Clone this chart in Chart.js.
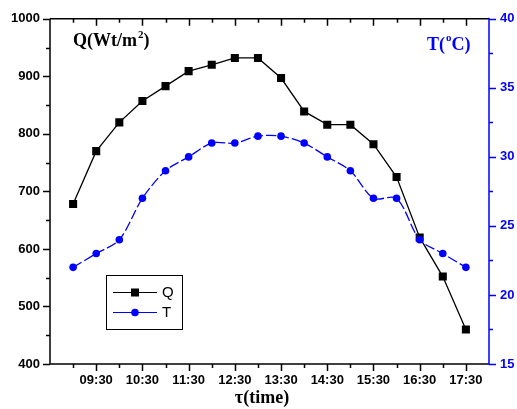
<!DOCTYPE html>
<html>
<head>
<meta charset="utf-8">
<script src="https://cdn.jsdelivr.net/npm/chart.js@4.4.1/dist/chart.umd.min.js"></script>
<style>
  body { margin: 0; background: #fff; }
  canvas { display: block; }
</style>
</head>
<body>
<canvas id="chart" width="517" height="409"></canvas>
<script>
// measurement times, every half hour
const times = ["09:00", "09:30", "10:00", "10:30", "11:00", "11:30", "12:00", "12:30", "13:00",
               "13:30", "14:00", "14:30", "15:00", "15:30", "16:00", "16:30", "17:00", "17:30"];
// solar flux Q (Wt/m2)
const qValues = [678, 770, 820, 857, 883, 909, 920, 932, 932, 897, 839, 816, 816, 782, 725, 620, 552, 460];
// temperature T (C)
const tValues = [22, 23, 24, 27, 29, 30, 31, 31, 31.5, 31.5, 31, 30, 29, 27, 27, 24, 23, 22];
// axis ticks
const timeTicks = ["09:30", "10:30", "11:30", "12:30", "13:30", "14:30", "15:30", "16:30", "17:30"];
const qTicks = [400, 500, 600, 700, 800, 900, 1000];
const tTicks = [15, 20, 25, 30, 35, 40];

const BLUE = "#0000ff";

function toHours(s) {
    const [h, m] = s.split(":").map(Number);
    return h + m / 60;
}

const sans = "'Liberation Sans', Arial, sans-serif";
const serif = "'Liberation Serif', 'Times New Roman', serif";

// axis frame, major/minor ticks, titles and legend
const framePlugin = {
    id: "frame",
    afterDraw(chart) {
        const { ctx, chartArea: a, scales } = chart;
        const x = scales.x, y = scales.y, y2 = scales.y2;
        ctx.save();
        ctx.lineWidth = 1.5;
        ctx.lineCap = "butt";

        // black frame: left, bottom, top
        ctx.strokeStyle = "#000";
        ctx.beginPath();
        ctx.moveTo(a.left, a.top); ctx.lineTo(a.left, a.bottom);
        ctx.moveTo(a.left, a.bottom); ctx.lineTo(a.right, a.bottom);
        ctx.moveTo(a.left, a.top); ctx.lineTo(a.right, a.top);
        ctx.stroke();

        // x ticks every half hour, major at :30
        const xStep = 0.5;
        ctx.beginPath();
        for (let v = x.min + xStep; v < x.max - 1e-6; v += xStep) {
            const px = Math.round(x.getPixelForValue(v)) + 0.5;
            const major = timeTicks.some(t => Math.abs(toHours(t) - v) < 1e-6);
            const len = major ? 7 : 4;
            ctx.moveTo(px, a.bottom); ctx.lineTo(px, a.bottom + len);
            ctx.moveTo(px, a.top); ctx.lineTo(px, a.top + len);
        }
        ctx.stroke();

        // left ticks
        const qStep = (qTicks[1] - qTicks[0]) / 2;
        ctx.beginPath();
        for (let v = y.min; v <= y.max + 1e-6; v += qStep) {
            const py = Math.round(y.getPixelForValue(v)) + 0.5;
            const len = qTicks.includes(v) ? 7 : 4;
            ctx.moveTo(a.left - len, py); ctx.lineTo(a.left, py);
        }
        ctx.stroke();

        // right axis in blue
        ctx.strokeStyle = BLUE;
        ctx.beginPath();
        ctx.moveTo(a.right, a.top - 1); ctx.lineTo(a.right, a.bottom + 1);
        const tStep = (tTicks[1] - tTicks[0]) / 2;
        for (let v = y2.min; v <= y2.max + 1e-6; v += tStep) {
            const py = Math.round(y2.getPixelForValue(v)) + 0.5;
            const len = tTicks.includes(v) ? 7 : 4;
            ctx.moveTo(a.right, py); ctx.lineTo(a.right + len, py);
        }
        ctx.stroke();

        // titles
        ctx.textBaseline = "alphabetic";
        ctx.textAlign = "left";
        ctx.fillStyle = "#000";
        let cx = 73;
        ctx.font = "bold 18px " + serif;
        ctx.fillText("Q(Wt/m", cx, 46);
        cx += ctx.measureText("Q(Wt/m").width;
        ctx.font = "bold 11px " + serif;
        ctx.fillText("2", cx + 1, 38);
        cx += ctx.measureText("2").width + 1;
        ctx.font = "bold 18px " + serif;
        ctx.fillText(")", cx, 46);

        ctx.fillStyle = BLUE;
        cx = 427;
        ctx.fillText("T(", cx, 50);
        cx += ctx.measureText("T(").width;
        ctx.font = "bold 11px " + serif;
        ctx.fillText("o", cx + 1, 41);
        cx += ctx.measureText("o").width + 1;
        ctx.font = "bold 18px " + serif;
        ctx.fillText("C)", cx, 50);

        ctx.fillStyle = "#000";
        ctx.textAlign = "center";
        ctx.fillText("\u03c4(time)", 262, 403);

        // legend
        ctx.lineWidth = 1;
        ctx.strokeStyle = "#000";
        ctx.strokeRect(106.5, 275.5, 76, 54);
        ctx.beginPath();
        ctx.moveTo(113, 292.5); ctx.lineTo(157, 292.5);
        ctx.stroke();
        ctx.fillRect(131, 288.5, 8, 8);
        ctx.strokeStyle = BLUE;
        ctx.fillStyle = BLUE;
        ctx.beginPath();
        ctx.moveTo(113, 312.5); ctx.lineTo(157, 312.5);
        ctx.stroke();
        ctx.beginPath();
        ctx.arc(135, 312.5, 3.8, 0, Math.PI * 2);
        ctx.fill();
        ctx.fillStyle = "#000";
        ctx.textAlign = "left";
        ctx.textBaseline = "middle";
        ctx.font = "15px " + sans;
        ctx.fillText("Q", 162, 293);
        ctx.fillText("T", 162, 313);

        ctx.restore();
    }
};

const labelForTime = v => {
    const hit = timeTicks.find(t => Math.abs(toHours(t) - v) < 1e-6);
    return hit || "";
};

new Chart(document.getElementById("chart"), {
    type: "line",
    data: {
        datasets: [{
            label: "T",
            data: times.map((t, i) => ({ x: toHours(t), y: tValues[i] })),
            yAxisID: "y2",
            borderColor: BLUE,
            backgroundColor: BLUE,
            borderWidth: 1.3,
            borderDash: [10, 3],
            tension: 0.3,
            pointStyle: "circle",
            pointRadius: 3.8,
            pointBorderWidth: 0,
            order: 0
        }, {
            label: "Q",
            data: times.map((t, i) => ({ x: toHours(t), y: qValues[i] })),
            yAxisID: "y",
            borderColor: "#000",
            backgroundColor: "#000",
            borderWidth: 1.3,
            tension: 0,
            pointStyle: "rect",
            pointRadius: 5.7,
            pointBorderWidth: 0,
            order: 1
        }]
    },
    options: {
        responsive: false,
        animation: false,
        devicePixelRatio: 1,
        layout: { padding: { top: 16, left: 0, right: 0, bottom: 0 } },
        plugins: {
            legend: { display: false },
            tooltip: { enabled: false }
        },
        scales: {
            x: {
                type: "linear",
                min: 8.5,
                max: 18,
                border: { display: false },
                grid: { display: false, drawTicks: false },
                afterFit: s => { s.height = 45; },
                ticks: {
                    stepSize: 0.5,
                    autoSkip: false,
                    maxRotation: 0,
                    padding: 9,
                    color: "#000",
                    font: { family: sans, size: 13, weight: "bold" },
                    callback: labelForTime
                }
            },
            y: {
                position: "left",
                min: qTicks[0],
                max: qTicks[qTicks.length - 1],
                border: { display: false },
                grid: { display: false, drawTicks: false },
                afterFit: s => { s.width = 50; },
                ticks: {
                    stepSize: qTicks[1] - qTicks[0],
                    padding: 10,
                    color: "#000",
                    font: { family: sans, size: 13, weight: "bold" },
                    callback: v => String(v)
                }
            },
            y2: {
                position: "right",
                min: tTicks[0],
                max: tTicks[tTicks.length - 1],
                border: { display: false },
                grid: { display: false, drawTicks: false },
                afterFit: s => { s.width = 28; },
                ticks: {
                    stepSize: tTicks[1] - tTicks[0],
                    padding: 11,
                    color: BLUE,
                    font: { family: sans, size: 13, weight: "bold" },
                    callback: v => String(v)
                }
            }
        }
    },
    plugins: [framePlugin]
});
</script>
</body>
</html>
